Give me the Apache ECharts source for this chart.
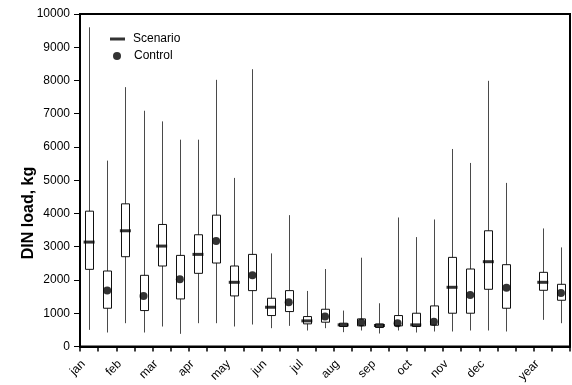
<!DOCTYPE html>
<html>
<head>
<meta charset="utf-8">
<script src="https://cdn.jsdelivr.net/npm/echarts@6/dist/echarts.min.js"></script>
<style>
  html, body { margin: 0; padding: 0; background: #fff; }
  #main { width: 572px; height: 385px; }
</style>
</head>
<body>
<div id="main"></div>
<script>
// month groups (last one is the whole year)
var groups = ['jan','feb','mar','apr','may','jun','jul','aug','sep','oct','nov','dec','year'];

// Scenario: min, q1, median, q3, max  (kg)
var scenMin = [500, 700, 600, 700, 600, 550, 480, 430, 390, 420, 450, 480, 800];
var scenQ1  = [2320, 2700, 2420, 2200, 1520, 930, 680, 600, 570, 600, 1000, 1720, 1690];
var scenMed = [3140, 3480, 3020, 2770, 1930, 1180, 770, 650, 630, 650, 1780, 2550, 1930];
var scenQ3  = [4070, 4290, 3670, 3360, 2420, 1450, 900, 700, 680, 1000, 2680, 3480, 2230];
var scenMax = [9600, 7800, 6770, 6220, 5070, 2800, 1670, 1080, 1300, 3290, 5940, 7990, 3550];

// Control: min, q1, median, q3, max  (kg)
var ctrlMin = [420, 420, 380, 700, 660, 620, 550, 480, 480, 450, 480, 450, 700];
var ctrlQ1  = [1150, 1080, 1430, 2510, 1680, 1050, 730, 620, 620, 640, 1000, 1150, 1390];
var ctrlMed = [1680, 1520, 2020, 3170, 2140, 1330, 900, 720, 700, 740, 1550, 1770, 1610];
var ctrlQ3  = [2270, 2140, 2740, 3950, 2770, 1680, 1120, 830, 930, 1220, 2330, 2460, 1870];
var ctrlMax = [5590, 7090, 6220, 8020, 8340, 3950, 2330, 2670, 3880, 3820, 5520, 4920, 2980];

var yTicks = { min: 0, max: 10000, interval: 1000 };

// category slots: two per month, one empty slot before "year"
var slots = [];
var slotLabels = [];
for (var i = 0; i < 12; i++) {
  slots.push(groups[i] + '-s', groups[i] + '-c');
  slotLabels.push(groups[i], '');
}
slots.push('gap', 'year-s', 'year-c');
slotLabels.push('', 'year', '');

function slotOf(i, isCtrl) {
  var base = i < 12 ? i * 2 : 25;
  return base + (isCtrl ? 1 : 0);
}

var scenBoxes = [], ctrlBoxes = [], scenMeds = [], ctrlMeds = [];
for (var j = 0; j < groups.length; j++) {
  var xs = slotOf(j, false), xc = slotOf(j, true);
  scenBoxes.push([xs, scenMin[j], scenQ1[j], scenMed[j], scenQ3[j], scenMax[j]]);
  ctrlBoxes.push([xc, ctrlMin[j], ctrlQ1[j], ctrlMed[j], ctrlQ3[j], ctrlMax[j]]);
  scenMeds.push([xs, scenMed[j]]);
  ctrlMeds.push([xc, ctrlMed[j]]);
}

// whisker (no caps) + white box
function renderBox(params, api) {
  var x = api.value(0);
  var lo = api.coord([x, api.value(1)]);
  var q1 = api.coord([x, api.value(2)]);
  var q3 = api.coord([x, api.value(4)]);
  var hi = api.coord([x, api.value(5)]);
  var w = 8;
  var cx = Math.round(lo[0]) + 0.5;
  return {
    type: 'group',
    children: [
      { type: 'line', shape: { x1: cx, y1: lo[1], x2: cx, y2: hi[1] },
        style: { stroke: '#4a4a4a', lineWidth: 1 } },
      { type: 'rect', shape: { x: cx - w / 2, y: q3[1], width: w, height: q1[1] - q3[1] },
        style: { fill: '#fff', stroke: '#111', lineWidth: 1 } }
    ]
  };
}

var myChart = echarts.init(document.getElementById('main'));
var font = 'Liberation Sans, Arial, sans-serif';

var option = {
  backgroundColor: '#fff',
  animation: false,
  textStyle: { fontFamily: font },
  grid: {
    left: 80, top: 14, right: 2, bottom: 38,
    show: true, borderColor: '#000', borderWidth: 2
  },
  legend: [
    {
      data: [{ name: 'Scenario', icon: 'rect' }],
      left: 105, top: 28,
      itemWidth: 15, itemHeight: 3, itemGap: 0,
      textStyle: { fontSize: 12, color: '#000', fontFamily: font, padding: [0, 0, 0, 3] }
    },
    {
      data: [{ name: 'Control', icon: 'circle' }],
      left: 108, top: 45,
      itemWidth: 8, itemHeight: 8, itemGap: 0,
      textStyle: { fontSize: 12, color: '#000', fontFamily: font, padding: [0, 0, 0, 8] }
    }
  ],
  xAxis: {
    type: 'category',
    data: slots,
    boundaryGap: true,
    axisLine: { lineStyle: { color: '#000', width: 2 } },
    axisTick: { show: true, interval: 0, length: 5, lineStyle: { color: '#000', width: 1.5 } },
    axisLabel: {
      interval: 0,
      rotate: 45,
      margin: 10,
      padding: [0, 8, 0, 0],
      fontSize: 12,
      color: '#000',
      fontFamily: font,
      formatter: function (v, idx) { return slotLabels[idx]; }
    },
    splitLine: { show: false }
  },
  yAxis: {
    type: 'value',
    min: yTicks.min,
    max: yTicks.max,
    interval: yTicks.interval,
    axisLine: { show: true, lineStyle: { color: '#000', width: 2 } },
    axisTick: { show: true, length: 6, lineStyle: { color: '#000', width: 1 } },
    axisLabel: {
      fontSize: 12, color: '#000', margin: 10, fontFamily: font,
      formatter: function (v) { return String(v); }
    },
    splitLine: { show: false }
  },
  graphic: [
    {
      type: 'text',
      x: 29, y: 213,
      rotation: Math.PI / 2,
      style: {
        text: 'DIN load, kg',
        fontSize: 16,
        fontWeight: 'bold',
        fontFamily: font,
        fill: '#000',
        align: 'center',
        verticalAlign: 'middle'
      }
    }
  ],
  series: [
    { name: 'ScenarioBox', type: 'custom', renderItem: renderBox, data: scenBoxes, silent: true, z: 2 },
    { name: 'ControlBox', type: 'custom', renderItem: renderBox, data: ctrlBoxes, silent: true, z: 2 },
    {
      name: 'Scenario', type: 'scatter', data: scenMeds, z: 5,
      symbol: 'rect', symbolSize: [11, 3],
      itemStyle: { color: '#000' }
    },
    {
      name: 'Control', type: 'scatter', data: ctrlMeds, z: 5,
      symbol: 'circle', symbolSize: 8,
      itemStyle: { color: '#000' }
    }
  ]
};

myChart.setOption(option);
</script>
</body>
</html>
